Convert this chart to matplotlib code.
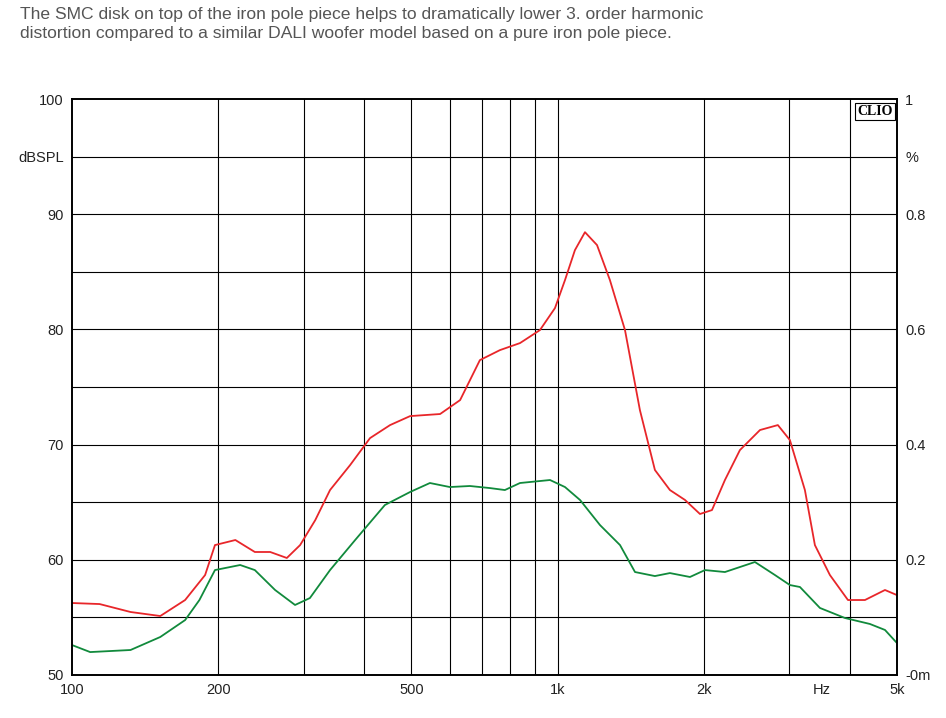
import numpy as np
import matplotlib
matplotlib.use('Agg')
import matplotlib.pyplot as plt
from matplotlib.ticker import NullFormatter, FixedLocator

red_f = [100, 114, 132, 152, 171, 188, 197, 217, 238, 256, 277, 295, 317, 340, 374, 411, 452, 497,
         573, 630, 692, 761, 837, 920, 988, 1036, 1086, 1139, 1206, 1282, 1377, 1478, 1587, 1704,
         1830, 1965, 2080, 2212, 2375, 2612, 2843, 3010, 3232, 3389, 3639, 3964, 4297, 4725, 5000]
red_db = [56.25, 56.16, 55.47, 55.12, 56.51, 58.68, 61.28, 61.72, 60.68, 60.68, 60.16, 61.28, 63.45,
          66.06, 68.23, 70.57, 71.7, 72.48, 72.66, 73.87, 77.34, 78.21, 78.82, 79.95, 81.86, 84.29,
          86.89, 88.45, 87.33, 84.29, 79.95, 73.0, 67.8, 66.06, 65.2, 63.98, 64.32, 66.93, 69.53,
          71.27, 71.7, 70.4, 66.06, 61.28, 58.68, 56.51, 56.51, 57.38, 56.94]

green_f = [100, 109, 132, 152, 171, 183, 197, 222, 238, 262, 288, 309, 340, 383, 441, 497, 546, 600,
           660, 726, 779, 837, 965, 1036, 1113, 1223, 1345, 1444, 1587, 1704, 1874, 2012, 2212, 2550,
           2804, 3010, 3157, 3471, 3907, 4399, 4725, 5000]
green_db = [52.6, 51.99, 52.17, 53.3, 54.77, 56.51, 59.11, 59.55, 59.11, 57.38, 56.08, 56.68, 59.11,
            61.72, 64.76, 65.89, 66.67, 66.32, 66.41, 66.23, 66.06, 66.67, 66.93, 66.32, 65.19, 63.02,
            61.28, 58.94, 58.59, 58.85, 58.51, 59.11, 58.94, 59.81, 58.68, 57.81, 57.64, 55.82, 54.95,
            54.43, 53.91, 52.78]

grid_x = [200, 300, 400, 500, 600, 700, 800, 900, 1000, 2000, 3000, 4000]
x_ticks = [100, 200, 500, 1000, 2000, 3500, 5000]
x_labels = ['100', '200', '500', '1k', '2k', 'Hz', '5k']
left_ticks = [100, 95, 90, 80, 70, 60, 50]
left_labels = ['100', 'dBSPL', '90', '80', '70', '60', '50']
right_labels = ['1', '%', '0.8', '0.6', '0.4', '0.2', '-0m']

plt.rcParams['font.family'] = ['Liberation Sans', 'DejaVu Sans']
fig = plt.figure(figsize=(9.46, 7.18), dpi=100)
ax = fig.add_axes([0.0761, 0.0599, 0.872, 0.802])
ax.set_xscale('log')
ax.set_xlim(100, 5000)
ax.set_ylim(50, 100)

for g in grid_x:
    ax.axvline(g, color='black', lw=0.8)
for y in range(55, 100, 5):
    ax.axhline(y, color='black', lw=0.8)

ax.plot(red_f, red_db, color='#e8262a', lw=1.3)
ax.plot(green_f, green_db, color='#118a3c', lw=1.3)

ax.xaxis.set_major_locator(FixedLocator(x_ticks))
ax.xaxis.set_minor_locator(FixedLocator([]))
ax.xaxis.set_minor_formatter(NullFormatter())
ax.set_xticklabels(x_labels)
ax.set_yticks(left_ticks)
ax.set_yticklabels(left_labels)
ax.tick_params(length=0, labelsize=10.5, pad=6, labelcolor='#222222')

ax2 = ax.twinx()
ax2.set_ylim(50, 100)
ax2.set_yticks(left_ticks)
ax2.set_yticklabels(right_labels)
ax2.tick_params(length=0, labelsize=10.5, pad=6, labelcolor='#222222')

for a in (ax, ax2):
    for s in a.spines.values():
        s.set_linewidth(1.2)

ax.text(0.995, 0.99, 'CLIO', transform=ax.transAxes, ha='right', va='top',
        fontsize=10, fontweight='bold', family='Liberation Serif',
        bbox=dict(facecolor='white', edgecolor='black', lw=0.8, pad=1.5))

fig.text(0.021, 0.99, 'The SMC disk on top of the iron pole piece helps to dramatically lower 3. order harmonic\n'
         'distortion compared to a similar DALI woofer model based on a pure iron pole piece.',
         ha='left', va='top', fontsize=12.6, color='#555555', linespacing=1.3)

fig.savefig('out.png', dpi=100)
